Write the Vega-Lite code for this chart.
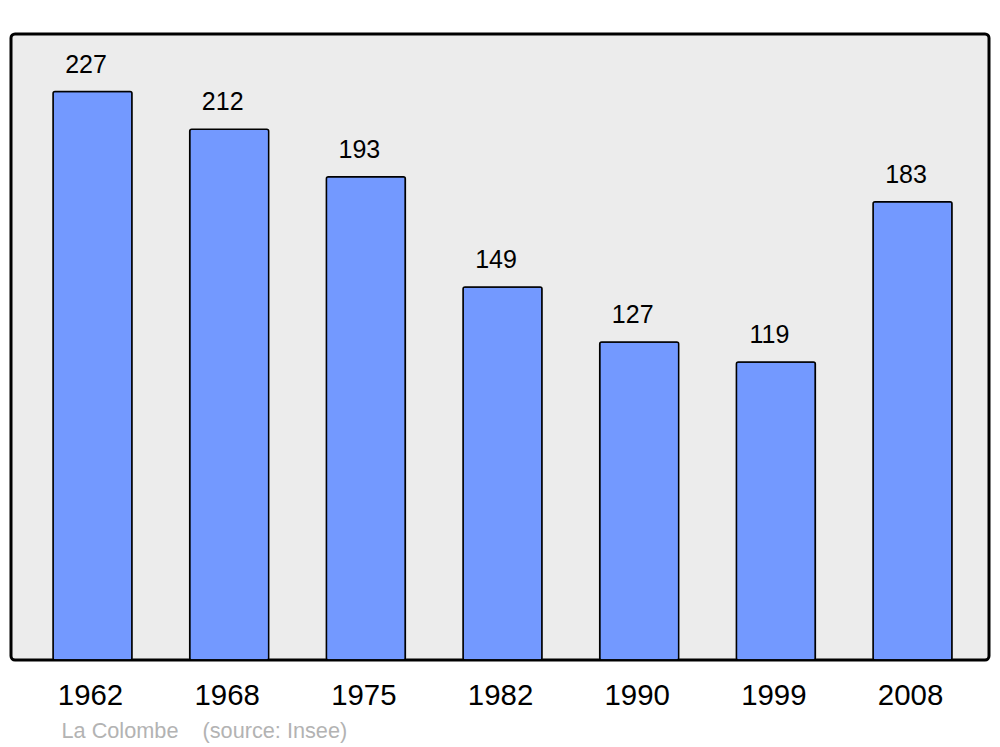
{
  "$schema": "https://vega.github.io/schema/vega-lite/v6.json",
  "width": 978,
  "height": 626,
  "autosize": {"type": "none"},
  "padding": {"left": 11, "top": 34, "right": 11, "bottom": 87},
  "background": "white",
  "config": {
    "font": "Liberation Sans",
    "view": {"fill": "#ececec", "stroke": "black", "strokeWidth": 3, "cornerRadius": 4}
  },
  "data": {
    "values": [
      {"year": "1962", "pop": 227},
      {"year": "1968", "pop": 212},
      {"year": "1975", "pop": 193},
      {"year": "1982", "pop": 149},
      {"year": "1990", "pop": 127},
      {"year": "1999", "pop": 119},
      {"year": "2008", "pop": 183}
    ]
  },
  "encoding": {
    "x": {
      "field": "year",
      "type": "nominal",
      "sort": null,
      "scale": {"paddingInner": 0.422, "paddingOuter": 0.289, "align": 0.532},
      "axis": {
        "title": "La Colombe\u00a0\u00a0\u00a0\u00a0(source: Insee)",
        "titleFontSize": 21.7,
        "titleFontWeight": "normal",
        "titleColor": "#b3b3b3",
        "titleAnchor": "start",
        "titleAlign": "left",
        "titleBaseline": "alphabetic",
        "titleX": 50,
        "titleY": 77,
        "labelAngle": 0,
        "labelFontSize": 29.4,
        "labelColor": "black",
        "labelPadding": 21,
        "labelOffset": -2,
        "ticks": false,
        "domain": false,
        "grid": false
      }
    },
    "y": {
      "field": "pop",
      "type": "quantitative",
      "scale": {"domain": [0, 250], "nice": false, "zero": true},
      "axis": null
    }
  },
  "layer": [
    {
      "mark": {"type": "bar", "fill": "#7399ff", "stroke": "black", "strokeWidth": 1.5, "cornerRadius": 2}
    },
    {
      "mark": {"type": "text", "fontSize": 25, "color": "black", "baseline": "alphabetic", "dy": -19, "dx": -6.5},
      "encoding": {"text": {"field": "pop", "type": "quantitative"}}
    }
  ]
}
